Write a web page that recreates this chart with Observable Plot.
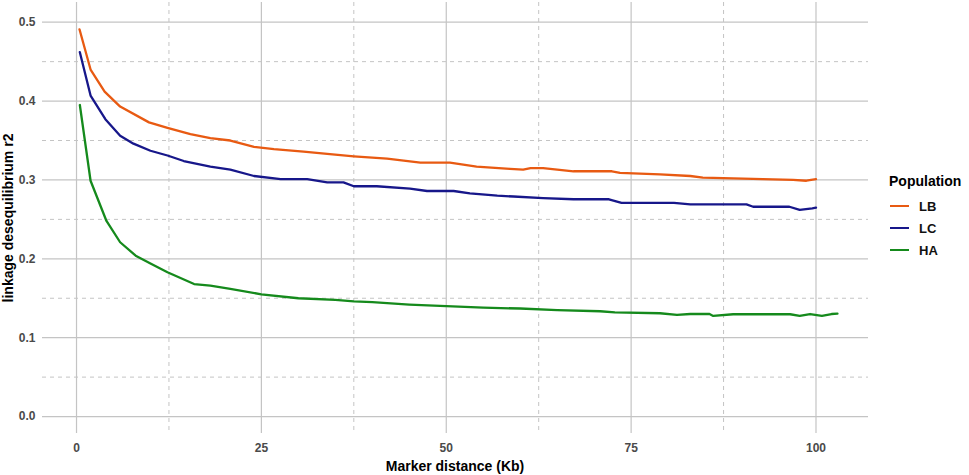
<!DOCTYPE html>
<html>
<head>
<meta charset="utf-8">
<script src="https://cdn.jsdelivr.net/npm/d3@7"></script>
<script src="https://cdn.jsdelivr.net/npm/@observablehq/plot@0.6"></script>
<style>
  html, body { margin: 0; padding: 0; background: #fff; }
  #wrap { position: relative; width: 969px; height: 475px; font-family: "Liberation Sans", Arial, sans-serif; }
  #chart { position: absolute; left: 0; top: 0; }
  #legend { position: absolute; left: 889px; top: 173px; font-family: "Liberation Sans", Arial, sans-serif; }
  #legend .title { font-weight: bold; font-size: 14px; color: #000; margin-bottom: 6px; }
  #legend .item { display: flex; align-items: center; height: 22px; font-weight: bold; font-size: 13px; color: #111; }
  #legend .swatch { width: 19px; height: 2.4px; margin-left: 1px; margin-right: 10px; }
</style>
</head>
<body>
<div id="wrap">
  <div id="chart"></div>
  <div id="legend"></div>
</div>
<script>
const populations = ["LB", "LC", "HA"];
const colors = ["#e85a12", "#17178a", "#158a1c"];

const distLB = [0.4, 1.9, 3.8, 5.9, 9.8, 12.3, 15.4, 18.1, 20.8, 24, 26.7, 30.7, 33.9, 37.5, 42, 46.5, 50.5, 54.1, 58.6, 60.4, 61.4, 63.1, 65, 67.2, 70.8, 72.4, 73.5, 78.9, 83, 84.7, 88.8, 92.8, 96.9, 98.7, 100];
const ldLB = [0.491, 0.440, 0.412, 0.393, 0.373, 0.366, 0.358, 0.353, 0.350, 0.342, 0.339, 0.336, 0.333, 0.330, 0.327, 0.322, 0.322, 0.317, 0.314, 0.313, 0.315, 0.315, 0.313, 0.311, 0.311, 0.311, 0.309, 0.307, 0.305, 0.303, 0.302, 0.301, 0.300, 0.299, 0.301];

const distLC = [0.45, 1.9, 3.9, 5.9, 7.7, 10, 12.3, 14.5, 18.1, 20.8, 24, 27.6, 31.2, 33.9, 36.1, 37.5, 40.6, 45.1, 47.4, 51, 53.2, 56.9, 59.1, 63.1, 67.2, 72, 73.7, 80.8, 83, 90.6, 91.5, 96.4, 97.8, 99.5, 100];
const ldLC = [0.462, 0.407, 0.377, 0.356, 0.346, 0.337, 0.331, 0.324, 0.317, 0.313, 0.305, 0.301, 0.301, 0.297, 0.297, 0.292, 0.292, 0.289, 0.286, 0.286, 0.283, 0.280, 0.279, 0.277, 0.2755, 0.2755, 0.271, 0.271, 0.269, 0.269, 0.266, 0.266, 0.262, 0.264, 0.265];

const distHA = [0.45, 1.9, 4.05, 5.9, 8, 10, 12.3, 15.9, 18.1, 20.8, 25, 30, 35, 37.5, 40, 45, 50, 55, 60, 65, 70.8, 72.8, 78.9, 81.2, 83, 85.6, 86.1, 88.8, 96.5, 97.8, 99.2, 100.8, 102.1, 102.9];
const ldHA = [0.395, 0.299, 0.248, 0.221, 0.204, 0.194, 0.183, 0.168, 0.166, 0.162, 0.155, 0.150, 0.148, 0.146, 0.145, 0.142, 0.140, 0.138, 0.137, 0.135, 0.1335, 0.132, 0.131, 0.129, 0.130, 0.130, 0.1276, 0.1297, 0.1297, 0.1276, 0.130, 0.1276, 0.130, 0.1305];

const xMajor = [0, 25, 50, 75, 100];
const xMinor = [12.5, 37.5, 62.5, 87.5];
const yMajor = [0, 0.1, 0.2, 0.3, 0.4, 0.5];
const yMinor = [0.05, 0.15, 0.25, 0.35, 0.45];

const rows = [];
[[distLB, ldLB, "LB"], [distLC, ldLC, "LC"], [distHA, ldHA, "HA"]].forEach(([xs, ys, p]) => {
  xs.forEach((d, i) => rows.push({dist: d, r2: ys[i], pop: p}));
});

const plot = Plot.plot({
  width: 969,
  height: 475,
  marginLeft: 42,
  marginRight: 101,
  marginTop: 2,
  marginBottom: 42,
  style: { fontFamily: "'Liberation Sans', Arial, sans-serif", background: "#fff", overflow: "visible" },
  x: { domain: [-4.6, 107.1], label: null },
  y: { domain: [-0.0215, 0.525], label: null },
  color: { domain: populations, range: colors },
  marks: [
    Plot.ruleY(yMinor, { stroke: "#c4c4c4", strokeWidth: 1, strokeDasharray: "4,4" }),
    Plot.ruleX(xMinor, { stroke: "#c4c4c4", strokeWidth: 1, strokeDasharray: "4,4" }),
    Plot.ruleY(yMajor, { stroke: "#c4c4c4", strokeWidth: 1.2 }),
    Plot.ruleX(xMajor, { stroke: "#c4c4c4", strokeWidth: 1.2 }),
    Plot.axisX({ ticks: xMajor, tickSize: 0, tickPadding: 10, fontSize: 12, fontWeight: "bold", fill: "#4a4a4a", label: null }),
    Plot.axisY({ ticks: yMajor, tickSize: 0, tickPadding: 7, fontSize: 12, fontWeight: "bold", fill: "#4a4a4a", tickFormat: d3.format(".1f"), label: null }),
    Plot.line(rows, { x: "dist", y: "r2", stroke: "pop", z: "pop", strokeWidth: 2.3, curve: "linear" })
  ]
});
document.getElementById("chart").appendChild(plot);

// axis titles
const svg = d3.select(plot);
svg.append("text")
  .attr("x", 455).attr("y", 471)
  .attr("text-anchor", "middle")
  .attr("font-size", 14).attr("font-weight", "bold").attr("fill", "#000")
  .text("Marker distance (Kb)");
svg.append("text")
  .attr("transform", "translate(13,218) rotate(-90)")
  .attr("text-anchor", "middle")
  .attr("font-size", 14).attr("font-weight", "bold").attr("fill", "#000")
  .text("linkage desequilibrium r2");

// legend
const legend = d3.select("#legend");
legend.append("div").attr("class", "title").text("Population");
populations.forEach((p, i) => {
  const it = legend.append("div").attr("class", "item");
  it.append("div").attr("class", "swatch").style("background", colors[i]);
  it.append("span").text(p);
});
</script>
</body>
</html>
